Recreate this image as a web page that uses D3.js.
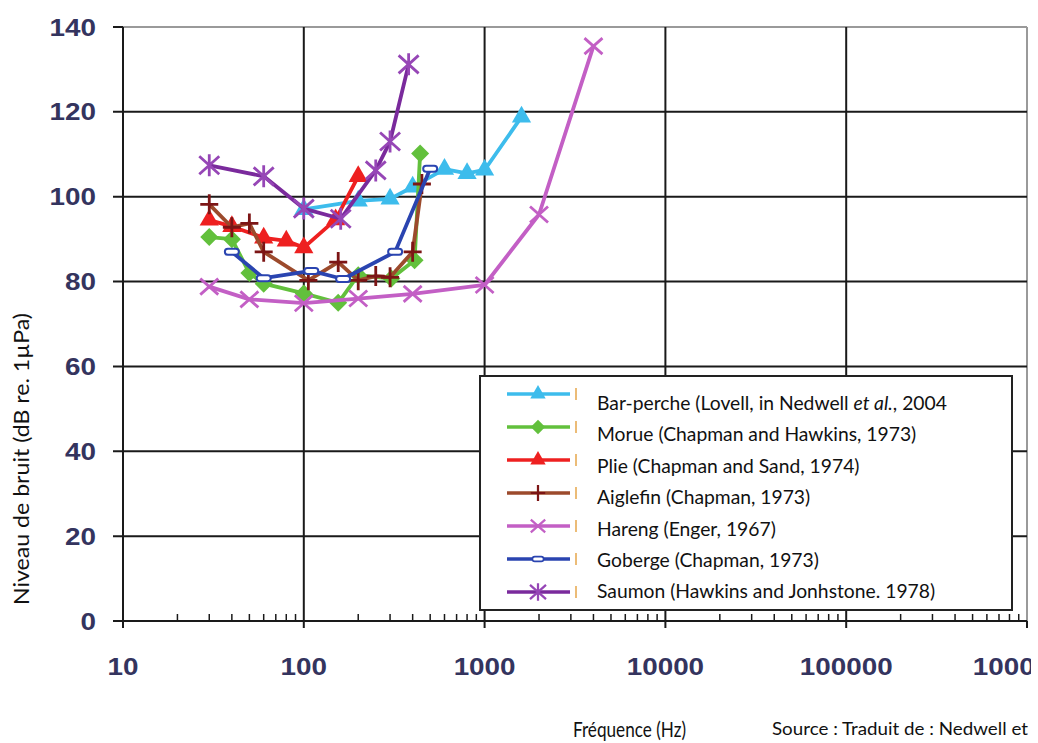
<!DOCTYPE html>
<html><head><meta charset="utf-8">
<script src="https://cdn.jsdelivr.net/npm/d3@7"></script>
<style>html,body{margin:0;padding:0;background:#fff;}svg{display:block;}</style>
</head><body>
<svg id="chart" width="1038" height="743"></svg>
<script>
// ---- data ----
const yTicks = [0, 20, 40, 60, 80, 100, 120, 140];
const xTicks = [10, 100, 1000, 10000, 100000, 1000000];
const xTickLabels = ["10", "100", "1000", "10000", "100000", "1000000"];
const seriesNames = [
  "Bar-perche", "Morue", "Plie", "Aiglefin", "Hareng", "Goberge", "Saumon"
];
const legendLabels = [
  ["Bar-perche (Lovell, in Nedwell ", "et al.", ", 2004"],
  ["Morue (Chapman and Hawkins, 1973)"],
  ["Plie (Chapman and Sand, 1974)"],
  ["Aiglefin (Chapman, 1973)"],
  ["Hareng (Enger, 1967)"],
  ["Goberge (Chapman, 1973)"],
  ["Saumon (Hawkins and Jonhstone. 1978)"]
];
const barPerche = [[100,97],[200,99],[300,99.5],[400,102.3],[600,106.5],[800,105.5],[1000,106.3],[1600,118.8]];
const morue     = [[30,90.5],[40,90],[50,82],[60,79.5],[100,77.2],[155,75],[200,81.5],[305,80.7],[410,85],[440,110.2]];
const plie      = [[30,94.5],[40,93],[60,90.3],[80,89.6],[100,88],[150,94.6],[200,104.8]];
const aiglefin  = [[30,98.2],[40,92.8],[50,93.7],[60,87],[106,80.3],[155,84.6],[200,80.3],[250,81.3],[300,81],[400,87],[450,103]];
const hareng    = [[30,78.8],[50,75.8],[100,74.9],[200,76],[400,77.1],[1000,79.2],[2000,95.8],[4000,135.5]];
const goberge   = [[40,87],[60,80.8],[110,82.5],[165,80.6],[320,87],[500,106.6]];
const saumon    = [[30,107.4],[60,104.8],[100,97.2],[160,94.8],[250,106.2],[300,113],[380,131.2]];
const seriesData = [barPerche, morue, plie, aiglefin, hareng, goberge, saumon];

// ---- styles ----
const styles = [
  {line:"#3dbcec", mark:"#3dbcec", shape:"tri"},
  {line:"#62c03c", mark:"#62c03c", shape:"dia"},
  {line:"#ee2020", mark:"#ee2020", shape:"tri"},
  {line:"#9c4a2c", mark:"#7c1515", shape:"plus"},
  {line:"#c35fc5", mark:"#c35fc5", shape:"x"},
  {line:"#2a44b0", mark:"#2a44b0", shape:"dash"},
  {line:"#7a2a9c", mark:"#9646b6", shape:"star"}
];

const svg = d3.select("#chart");
const x = d3.scaleLog().domain([10, 1000000]).range([123, 1027]);
const y = d3.scaleLinear().domain([0, 140]).range([621, 27]);

// frame (top & right, light gray)
svg.append("line").attr("x1", x(10)).attr("x2", x(1e6)).attr("y1", y(140)).attr("y2", y(140))
  .attr("stroke", "#9a9a9a").attr("stroke-width", 2);
svg.append("line").attr("x1", x(1e6)).attr("x2", x(1e6)).attr("y1", y(140)).attr("y2", y(0))
  .attr("stroke", "#9a9a9a").attr("stroke-width", 2);

// horizontal grid
svg.append("g").selectAll("line").data(yTicks.filter(d => d < 140)).join("line")
  .attr("x1", 113).attr("x2", x(1e6)).attr("y1", d => y(d)).attr("y2", d => y(d))
  .attr("stroke", "#1a1a1a").attr("stroke-width", 2);
svg.append("line").attr("x1", 113).attr("x2", x(10)).attr("y1", y(140)).attr("y2", y(140))
  .attr("stroke", "#1a1a1a").attr("stroke-width", 2);

// vertical grid
svg.append("g").selectAll("line").data(xTicks.slice(0, 5)).join("line")
  .attr("x1", d => x(d)).attr("x2", d => x(d)).attr("y1", y(140)).attr("y2", y(0) + 7)
  .attr("stroke", "#1a1a1a").attr("stroke-width", 2);
svg.append("line").attr("x1", x(1e6)).attr("x2", x(1e6)).attr("y1", y(0)).attr("y2", y(0) + 7)
  .attr("stroke", "#1a1a1a").attr("stroke-width", 2);

// minor ticks
const minor = [];
for (let k = 1; k < 6; k++) for (let m = 2; m <= 9; m++) minor.push(m * Math.pow(10, k));
svg.append("g").selectAll("line").data(minor).join("line")
  .attr("x1", d => x(d)).attr("x2", d => x(d)).attr("y1", y(0)).attr("y2", y(0) - 7)
  .attr("stroke", "#1a1a1a").attr("stroke-width", 1.5);

// tick labels
svg.append("g").selectAll("text").data(yTicks).join("text")
  .attr("transform", d => `translate(96,${y(d)}) scale(1.16,1)`)
  .attr("dy", "0.36em").attr("text-anchor", "end")
  .attr("font-family", "Liberation Sans, Arial, sans-serif").attr("font-weight", "bold")
  .attr("font-size", 24).attr("fill", "#34345e").text(d => d);

const clip = svg.append("clipPath").attr("id", "clipR");
clip.append("rect").attr("x", 0).attr("y", 0).attr("width", 1031).attr("height", 743);
svg.append("g").attr("clip-path", "url(#clipR)").selectAll("text").data(xTicks).join("text")
  .attr("transform", d => `translate(${x(d)},666) scale(1.16,1)`)
  .attr("dy", "0.36em").attr("text-anchor", "middle")
  .attr("font-family", "Liberation Sans, Arial, sans-serif").attr("font-weight", "bold")
  .attr("font-size", 24).attr("fill", "#34345e").text((d, i) => xTickLabels[i]);

// symbols
function markerPath(shape) {
  switch (shape) {
    case "tri": return d3.symbol(d3.symbolTriangle, 160)();
    case "dia": return "M0,-9L9,0L0,9L-9,0Z";
    case "plus": return "M-9,0H9M0,-10V10";
    case "x": return "M-9,-8L9,8M-9,8L9,-8";
    case "star": return "M-10,-9L10,9M-10,9L10,-9M0,-11V11";
    case "dash": return "M-4,-3H4A3,3 0 0 1 4,3H-4A3,3 0 0 1 -4,-3Z";
  }
}
function drawMarker(g, shape, color) {
  const p = g.append("path").attr("d", markerPath(shape));
  if (shape === "plus" || shape === "x" || shape === "star") {
    p.attr("fill", "none").attr("stroke", color).attr("stroke-width", 2.8);
  } else if (shape === "dash") {
    p.attr("fill", "#fff").attr("stroke", color).attr("stroke-width", 2);
  } else {
    p.attr("fill", color);
  }
}

const line = d3.line().x(d => x(d[0])).y(d => y(d[1]));
seriesData.forEach((data, i) => {
  const st = styles[i];
  const g = svg.append("g");
  g.append("path").datum(data).attr("d", line).attr("fill", "none")
    .attr("stroke", st.line).attr("stroke-width", 3.8).attr("stroke-linejoin", "round");
  g.selectAll("g.m").data(data).join("g").attr("class", "m")
    .attr("transform", d => `translate(${x(d[0])},${y(d[1])})`)
    .each(function () { drawMarker(d3.select(this), st.shape, st.mark); });
});

// legend
const lg = svg.append("g");
lg.append("rect").attr("x", 480).attr("y", 376).attr("width", 532).attr("height", 234)
  .attr("fill", "#fff").attr("stroke", "#222").attr("stroke-width", 2);
seriesNames.forEach((name, i) => {
  const st = styles[i];
  const ly = 394 + i * 33;
  lg.append("line").attr("x1", 507).attr("x2", 570).attr("y1", ly).attr("y2", ly)
    .attr("stroke", st.line).attr("stroke-width", 3.6);
  const mg = lg.append("g").attr("transform", `translate(538,${ly}) scale(0.8)`);
  drawMarker(mg, st.shape, st.mark);
  lg.append("line").attr("x1", 576).attr("x2", 576).attr("y1", ly - 6).attr("y2", ly + 6)
    .attr("stroke", "#e6a64a").attr("stroke-width", 1.5);
  const t = lg.append("text").attr("x", 597).attr("y", 403 + i * 31.4).attr("dy", "0.36em")
    .attr("font-family", "Lato, sans-serif").attr("font-size", 19.3).attr("fill", "#111");
  legendLabels[i].forEach((part, j) => {
    t.append("tspan").attr("font-style", (legendLabels[i].length > 1 && j === 1) ? "italic" : "normal").text(part);
  });
});

// axis titles
svg.append("text").attr("x", 573).attr("y", 729).attr("dy", "0.36em")
  .attr("font-family", "Lato, sans-serif").attr("font-size", 21).attr("fill", "#111")
  .attr("textLength", 113).attr("lengthAdjust", "spacingAndGlyphs").text("Fréquence (Hz)");
svg.append("text").attr("x", 772).attr("y", 729).attr("dy", "0.36em")
  .attr("font-family", "Lato, sans-serif").attr("font-size", 18).attr("fill", "#111")
  .attr("textLength", 256).attr("lengthAdjust", "spacingAndGlyphs").text("Source : Traduit de : Nedwell et");
svg.append("text").attr("transform", "translate(21,459) rotate(-90)").attr("text-anchor", "middle")
  .attr("dy", "0.36em").attr("font-family", "Lato, sans-serif").attr("font-size", 21).attr("fill", "#111")
  .attr("textLength", 292).attr("lengthAdjust", "spacingAndGlyphs").text("Niveau de bruit (dB re. 1µPa)");
</script>
</body></html>
